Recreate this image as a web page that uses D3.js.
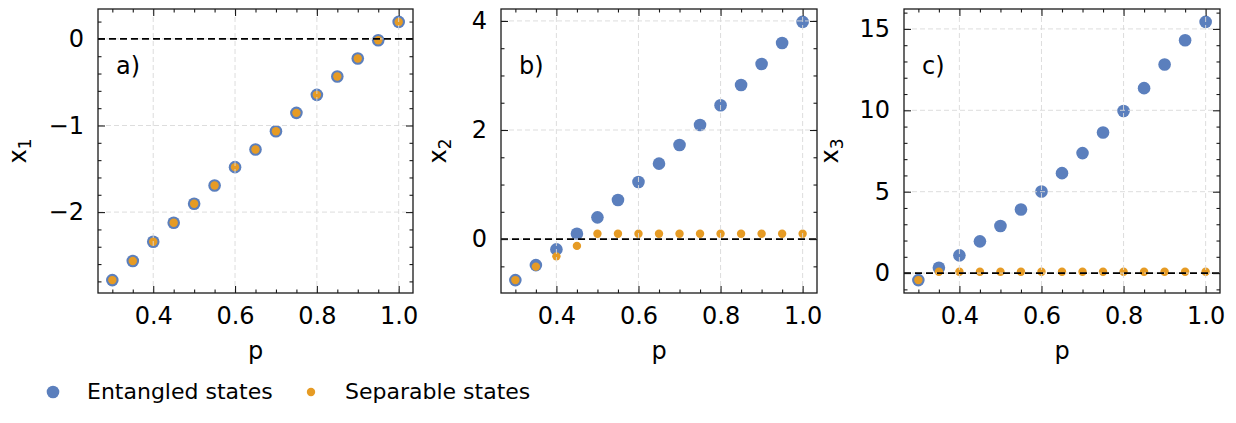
<!DOCTYPE html>
<html>
<head>
<meta charset="utf-8">
<script src="https://cdn.jsdelivr.net/npm/d3@7"></script>
<style>
  body { margin: 0; background: #fff; }
  text { font-family: "DejaVu Sans", sans-serif; fill: #000; }
</style>
</head>
<body>
<div id="chart"></div>
<script>
// data
var pValues = [0.3, 0.35, 0.4, 0.45, 0.5, 0.55, 0.6, 0.65, 0.7, 0.75, 0.8, 0.85, 0.9, 0.95, 1.0];

var x1Entangled = [-2.785, -2.565, -2.342, -2.123, -1.904, -1.692, -1.481, -1.277, -1.066, -0.854, -0.646, -0.435, -0.227, -0.016, 0.196];
var x1Separable = [-2.785, -2.565, -2.342, -2.123, -1.904, -1.692, -1.481, -1.277, -1.066, -0.854, -0.646, -0.435, -0.227, -0.016, 0.196];

var x2Entangled = [-0.752, -0.477, -0.189, 0.099, 0.398, 0.716, 1.046, 1.383, 1.725, 2.092, 2.453, 2.826, 3.211, 3.596, 3.982];
var x2Separable = [-0.752, -0.505, -0.317, -0.125, 0.099, 0.099, 0.099, 0.099, 0.099, 0.099, 0.099, 0.099, 0.099, 0.099, 0.099];

var x3Entangled = [-0.43, 0.33, 1.09, 1.95, 2.89, 3.91, 5.01, 6.14, 7.37, 8.64, 9.96, 11.36, 12.81, 14.30, 15.43];
var x3Separable = [-0.43, 0.08, 0.08, 0.08, 0.08, 0.08, 0.08, 0.08, 0.08, 0.08, 0.08, 0.08, 0.08, 0.08, 0.08];

var panelLabels = ["a)", "b)", "c)"];
var yLabelSubs = ["1", "2", "3"];
var xMajorTicks = [0.4, 0.6, 0.8, 1.0];
var yMajorTicks = [[-2, -1, 0], [0, 2, 4], [0, 5, 10, 15]];
var yMinorStep = [0.2, 0.5, 1];
var legendNames = ["Entangled states", "Separable states"];

var blue = "#5b7fbd", orange = "#e69b24";

var W = 1236, H = 423;
var svg = d3.select("#chart").append("svg")
    .attr("width", W)
    .attr("height", H);

// pixel boxes of the three axes (ylab = distance of y label from the axis)
var boxes = [
    { left: 98, right: 413, top: 9, bottom: 293, ylab: 72 },
    { left: 501, right: 817, top: 9, bottom: 293, ylab: 55 },
    { left: 904, right: 1220, top: 9, bottom: 293, ylab: 66 }
];

var series = [
    [x1Entangled, x1Separable],
    [x2Entangled, x2Separable],
    [x3Entangled, x3Separable]
];

// matplotlib style 5% padding
function padded(ext) {
    var d = ext[1] - ext[0];
    return [ext[0] - 0.05 * d, ext[1] + 0.05 * d];
}

function range(a, b, step) {
    var out = [];
    var n = Math.round((b - a) / step);
    for (var i = 0; i <= n; i++) out.push(+(a + i * step).toFixed(6));
    return out;
}

series.forEach(function (s, k) {
    var b = boxes[k];
    var all = s[0].concat(s[1]);

    var x = d3.scaleLinear()
        .domain(padded(d3.extent(pValues)))
        .range([b.left, b.right]);
    var y = d3.scaleLinear()
        .domain(padded(d3.extent(all)))
        .range([b.bottom, b.top]);

    var g = svg.append("g");

    // entangled (big blue) then separable (small orange)
    g.append("g").selectAll("circle")
        .data(s[0])
        .enter().append("circle")
        .attr("cx", function (d, i) { return x(pValues[i]); })
        .attr("cy", function (d) { return y(d); })
        .attr("r", 6.3)
        .attr("fill", blue);

    g.append("g").selectAll("circle")
        .data(s[1])
        .enter().append("circle")
        .attr("cx", function (d, i) { return x(pValues[i]); })
        .attr("cy", function (d) { return y(d); })
        .attr("r", 4.2)
        .attr("fill", orange);

    // grid on top of the markers
    var grid = g.append("g")
        .attr("stroke", "#d9d9d9")
        .attr("stroke-width", 0.9)
        .attr("stroke-dasharray", "5,3");
    grid.selectAll(".vg")
        .data(xMajorTicks)
        .enter().append("line")
        .attr("x1", function (d) { return x(d); })
        .attr("x2", function (d) { return x(d); })
        .attr("y1", b.top)
        .attr("y2", b.bottom);
    grid.selectAll(".hg")
        .data(yMajorTicks[k])
        .enter().append("line")
        .attr("x1", b.left)
        .attr("x2", b.right)
        .attr("y1", function (d) { return y(d); })
        .attr("y2", function (d) { return y(d); });

    // zero line
    g.append("line")
        .attr("x1", b.left)
        .attr("x2", b.right)
        .attr("y1", y(0))
        .attr("y2", y(0))
        .attr("stroke", "#000")
        .attr("stroke-width", 1.6)
        .attr("stroke-dasharray", "7,4");

    // ticks pointing inward on all four sides
    var xMinor = range(0.3, 1.0, 0.05).filter(function (v) {
        return xMajorTicks.indexOf(v) < 0;
    });
    var yd = y.domain();
    var ys = yMinorStep[k];
    var yMinor = range(Math.ceil(yd[0] / ys) * ys, Math.floor(yd[1] / ys) * ys, ys)
        .filter(function (v) {
            return !yMajorTicks[k].some(function (m) { return Math.abs(m - v) < 1e-6; });
        });

    g.append("g")
        .attr("transform", "translate(0," + b.bottom + ")")
        .call(d3.axisBottom(x).tickValues(xMajorTicks).tickSizeInner(-7).tickSizeOuter(0)
            .tickPadding(14).tickFormat(d3.format(".1f")))
        .call(styleAxis);
    g.append("g")
        .attr("transform", "translate(0," + b.bottom + ")")
        .call(d3.axisBottom(x).tickValues(xMinor).tickSize(-3.5).tickFormat(""))
        .call(styleAxis);
    g.append("g")
        .attr("transform", "translate(0," + b.top + ")")
        .call(d3.axisTop(x).tickValues(xMajorTicks).tickSize(-7).tickFormat(""))
        .call(styleAxis);
    g.append("g")
        .attr("transform", "translate(0," + b.top + ")")
        .call(d3.axisTop(x).tickValues(xMinor).tickSize(-3.5).tickFormat(""))
        .call(styleAxis);

    g.append("g")
        .attr("transform", "translate(" + b.left + ",0)")
        .call(d3.axisLeft(y).tickValues(yMajorTicks[k]).tickSizeInner(-7).tickSizeOuter(0)
            .tickPadding(14).tickFormat(d3.format("d")))
        .call(styleAxis);
    g.append("g")
        .attr("transform", "translate(" + b.left + ",0)")
        .call(d3.axisLeft(y).tickValues(yMinor).tickSize(-3.5).tickFormat(""))
        .call(styleAxis);
    g.append("g")
        .attr("transform", "translate(" + b.right + ",0)")
        .call(d3.axisRight(y).tickValues(yMajorTicks[k]).tickSize(-7).tickFormat(""))
        .call(styleAxis);
    g.append("g")
        .attr("transform", "translate(" + b.right + ",0)")
        .call(d3.axisRight(y).tickValues(yMinor).tickSize(-3.5).tickFormat(""))
        .call(styleAxis);

    // frame
    g.append("rect")
        .attr("x", b.left)
        .attr("y", b.top)
        .attr("width", b.right - b.left)
        .attr("height", b.bottom - b.top)
        .attr("fill", "none")
        .attr("stroke", "#1a1a1a")
        .attr("stroke-width", 1.3);

    // panel letter
    g.append("text")
        .attr("x", b.left + 18)
        .attr("y", 74)
        .style("font-size", "24px")
        .text(panelLabels[k]);

    // x label
    g.append("text")
        .attr("x", (b.left + b.right) / 2)
        .attr("y", 359)
        .attr("text-anchor", "middle")
        .style("font-size", "24px")
        .text("p");

    // y label
    var yl = g.append("text")
        .attr("transform", "translate(" + (b.left - b.ylab) + "," + ((b.top + b.bottom) / 2) + ") rotate(-90)")
        .attr("text-anchor", "middle")
        .style("font-size", "24px");
    yl.append("tspan").text("x");
    yl.append("tspan")
        .attr("dy", 5)
        .style("font-size", "17px")
        .text(yLabelSubs[k]);
});

function styleAxis(sel) {
    sel.select(".domain").remove();
    sel.selectAll(".tick line").attr("stroke", "#1a1a1a").attr("stroke-width", 1.1);
    sel.selectAll(".tick text")
        .style("font-family", "DejaVu Sans, sans-serif")
        .style("font-size", "24px")
        .attr("fill", "#000");
}

// legend
var legend = svg.append("g");
var legendX = [53, 311];
var legendR = [6.3, 4.2];
var legendC = [blue, orange];
legendNames.forEach(function (name, i) {
    legend.append("circle")
        .attr("cx", legendX[i])
        .attr("cy", 392)
        .attr("r", legendR[i])
        .attr("fill", legendC[i]);
    legend.append("text")
        .attr("x", legendX[i] + 34)
        .attr("y", 399)
        .style("font-size", "22px")
        .text(name);
});
</script>
</body>
</html>
